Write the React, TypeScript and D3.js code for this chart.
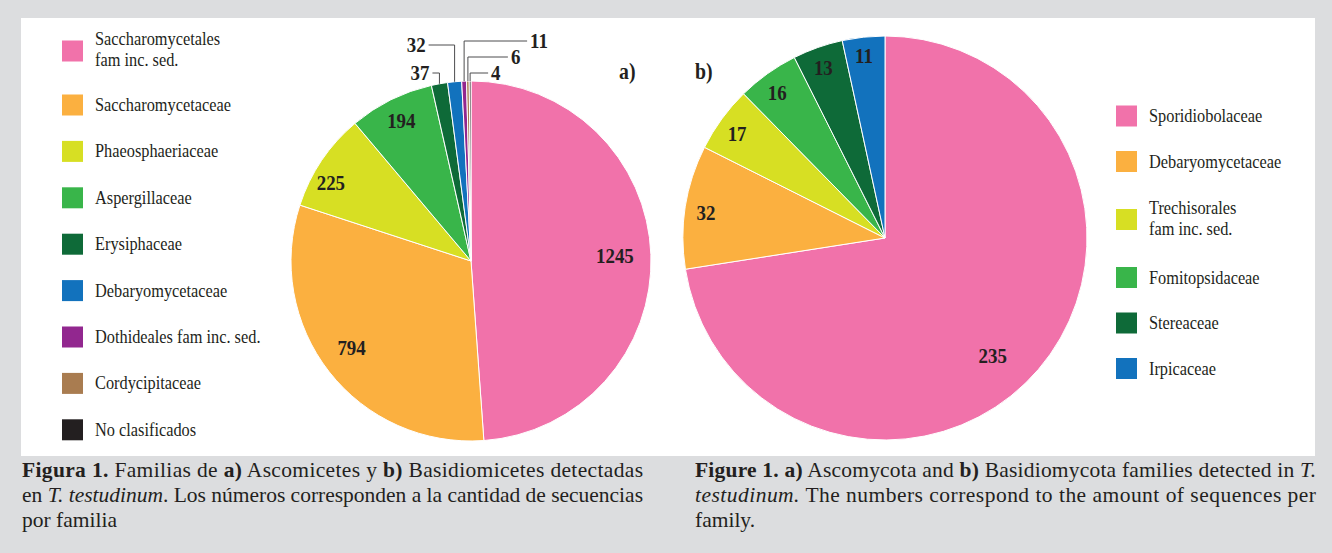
import React from 'react';
import * as d3 from 'd3';

const W = 1332;
const H = 553;

// ---------- data ----------
const ascoLegend = [
  'Saccharomycetales\nfam inc. sed.',
  'Saccharomycetaceae',
  'Phaeosphaeriaceae',
  'Aspergillaceae',
  'Erysiphaceae',
  'Debaryomycetaceae',
  'Dothideales fam inc. sed.',
  'Cordycipitaceae',
  'No clasificados',
];
const ascoValues = [1245, 794, 225, 194, 37, 32, 11, 6, 4];
const ascoColors = ['#f172aa', '#fbb040', '#d7df23', '#39b54a', '#0e6a38', '#1272bd', '#92278f', '#a97c50', '#231f20'];

const basidioLegend = [
  'Sporidiobolaceae',
  'Debaryomycetaceae',
  'Trechisorales\nfam inc. sed.',
  'Fomitopsidaceae',
  'Stereaceae',
  'Irpicaceae',
];
const basidioValues = [235, 32, 17, 16, 13, 11];
const basidioColors = ['#f172aa', '#fbb040', '#d7df23', '#39b54a', '#0e6a38', '#1272bd'];

// ---------- layout ----------
const FONT = '"Liberation Serif", "Times New Roman", serif';
const INK = '#231f20';
const SX = 0.86; // horizontal condensation of the type

const pieA = { cx: 471, cy: 261, r: 180 };
const pieB = { cx: 885, cy: 238, r: 202 };
// inside labels: [radius fraction, angle nudge in degrees]
const ascoInside = [[0.8, 0], [0.82, 2], [0.89, -5], [0.87, 0]];
const basidioInside = [[0.79, 7], [0.895, -1], [0.895, -1], [0.895, -1], [0.895, -0.5], [0.905, -0.5]];
// leader labels for the thin slices: slice index, side, elbow offset above pie top, horizontal run
const ascoLeaders = [
  { i: 4, side: -1, up: 8, run: 7 },
  { i: 5, side: -1, up: 36, run: 26 },
  { i: 6, side: 1, up: 40, run: 63 },
  { i: 7, side: 1, up: 24, run: 40 },
  { i: 8, side: 1, up: 8, run: 18 },
];

const T = ({ x, y, children, anchor = 'start', size = 19, weight = 'normal', sx = SX, fill = INK }: any) => (
  <text
    transform={`translate(${x},${y}) scale(${sx},1)`}
    textAnchor={anchor}
    fontSize={size}
    fontWeight={weight}
    fontFamily={FONT}
    fill={fill}
  >
    {children}
  </text>
);

function Pie({ values, colors, geo, inside, leaders }: any) {
  const arcs = d3.pie<number>().sort(null).value((d) => d).startAngle(0).endAngle(2 * Math.PI)(values);
  const arc = d3.arc<d3.PieArcDatum<number>>().innerRadius(0).outerRadius(geo.r);
  return (
    <g>
      <g transform={`translate(${geo.cx},${geo.cy})`}>
        {arcs.map((a, i) => (
          <path key={i} d={arc(a) || ''} fill={colors[i]} stroke="#ffffff" strokeWidth={1} />
        ))}
      </g>
      {arcs.map((a, i) => {
        if (!inside[i]) return null;
        const [f, nudge] = inside[i];
        const mid = (a.startAngle + a.endAngle) / 2 + (nudge * Math.PI) / 180;
        const x = geo.cx + geo.r * f * Math.sin(mid);
        const y = geo.cy - geo.r * f * Math.cos(mid);
        return (
          <T key={'l' + i} x={x} y={y + 7} anchor="middle" size={22} weight="bold">
            {values[i]}
          </T>
        );
      })}
      {(leaders || []).map((l: any) => {
        const a = arcs[l.i];
        const mid = (a.startAngle + a.endAngle) / 2;
        const x0 = geo.cx + geo.r * Math.sin(mid);
        const y0 = geo.cy - geo.r * Math.cos(mid);
        const ly = geo.cy - geo.r - l.up;
        const x1 = x0 + l.side * l.run;
        return (
          <g key={'ld' + l.i}>
            <polyline points={`${x0},${y0} ${x0},${ly} ${x1},${ly}`} fill="none" stroke="#4d4d4f" strokeWidth={1} />
            <T x={x1 + l.side * 3} y={ly + 7} anchor={l.side < 0 ? 'end' : 'start'} size={22} weight="bold">
              {values[l.i]}
            </T>
          </g>
        );
      })}
    </g>
  );
}

function Legend({ labels, colors, x, y0, step, extra }: any) {
  let y = y0;
  const items: any[] = [];
  labels.forEach((lab: string, i: number) => {
    if (i > 0) {
      const twoPrev = labels[i - 1].includes('\n');
      const twoCur = lab.includes('\n');
      y += step + (twoPrev ? extra : 0) + (twoCur ? extra : 0);
    }
    const lines = lab.split('\n');
    items.push(
      <g key={i}>
        <rect x={x} y={y - 10.5} width={21} height={21} fill={colors[i]} />
        {lines.length === 1 ? (
          <T x={x + 33} y={y + 6}>{lines[0]}</T>
        ) : (
          <>
            <T x={x + 33} y={y - 6}>{lines[0]}</T>
            <T x={x + 33} y={y + 15}>{lines[1]}</T>
          </>
        )}
      </g>
    );
  });
  return <g>{items}</g>;
}

const CAP = 21.5;
const CSX = 1.0;
const CapLine = ({ x, y, width, children }: any) => (
  <text
    transform={`translate(${x},${y}) scale(${CSX},1)`}
    fontSize={CAP}
    fontFamily={FONT}
    fill={INK}
    {...(width ? { textLength: width / CSX, lengthAdjust: 'spacing' } : {})}
  >
    {children}
  </text>
);

export default function App() {
  return (
    <svg
      width={W}
      height={H}
      viewBox={`0 0 ${W} ${H}`}
      style={{ position: 'absolute', left: 0, top: 0, display: 'block' }}
    >
      <rect x={0} y={0} width={W} height={H} fill="#dcdddf" />
      <rect x={21} y={18} width={1294} height={438} fill="#ffffff" />

      <Legend labels={ascoLegend} colors={ascoColors} x={62} y0={51} step={46.4} extra={7.6} />
      <Pie values={ascoValues} colors={ascoColors} geo={pieA} inside={ascoInside} leaders={ascoLeaders} />
      <T x={619} y={79} size={23} weight="bold">a)</T>

      <Pie values={basidioValues} colors={basidioColors} geo={pieB} inside={basidioInside} leaders={[]} />
      <T x={695} y={79} size={23} weight="bold">b)</T>
      <Legend labels={basidioLegend} colors={basidioColors} x={1116} y0={116} step={45.5} extra={12.5} />

      <CapLine x={22} y={477} width={621}>
        <tspan fontWeight="bold">Figura 1.</tspan> Familias de <tspan fontWeight="bold">a)</tspan> Ascomicetes y{' '}
        <tspan fontWeight="bold">b)</tspan> Basidiomicetes detectadas
      </CapLine>
      <CapLine x={22} y={502} width={621}>
        en <tspan fontStyle="italic">T. testudinum</tspan>. Los números corresponden a la cantidad de secuencias
      </CapLine>
      <CapLine x={22} y={527}>por familia</CapLine>

      <CapLine x={695} y={477} width={621}>
        <tspan fontWeight="bold">Figure 1.</tspan> <tspan fontWeight="bold">a)</tspan> Ascomycota and{' '}
        <tspan fontWeight="bold">b)</tspan> Basidiomycota families detected in <tspan fontStyle="italic">T.</tspan>
      </CapLine>
      <CapLine x={695} y={502} width={621}>
        <tspan fontStyle="italic">testudinum.</tspan> The numbers correspond to the amount of sequences per
      </CapLine>
      <CapLine x={695} y={527}>family.</CapLine>
    </svg>
  );
}
